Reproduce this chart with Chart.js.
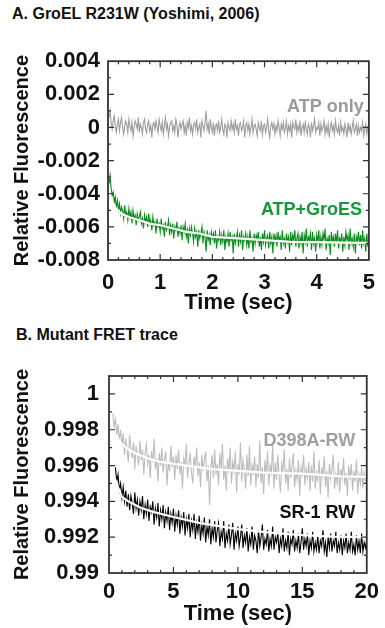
<!DOCTYPE html>
<html>
<head>
<meta charset="utf-8">
<script src="https://cdn.jsdelivr.net/npm/chart.js@4/dist/chart.umd.min.js"></script>
<style>
  body { margin: 0; background: #fff; }
  .titulo { position: absolute; font: bold 16px 'Liberation Sans', Arial, sans-serif; color: #111; white-space: nowrap; }
  canvas { position: absolute; left: 0; }
</style>
</head>
<body>
<div class="titulo" style="left:12px; top:5px;">A. GroEL R231W (Yoshimi, 2006)</div>
<canvas id="painelA" width="385" height="280" style="top:40px;"></canvas>
<div class="titulo" style="left:16px; top:326px;">B. Mutant FRET trace</div>
<canvas id="painelB" width="385" height="277" style="top:350px;"></canvas>
<script>
// Painel A: leituras a cada 0.02 s a partir de 0.02 s, valores em unidades de 1e-4
const inicioA = 0.02;
const passoA = 0.02;
const escalaA = 1e-4;
const atpSomente = [
  6, 10, 3, -1, 4, 7, 1, -3, 2, 5,
  -2, 3, 6, 0, -4, 1, 4, 2, -3, 5,
  1, -2, 3, -5, 0, 4, 2, -1, 6, -3,
  2, 0, -4, 3, 5, -1, -3, 2, 4, -2,
  1, -6, 2, 3, -1, 4, 0, -3, 5, 1,
  -2, 3, -4, 1, 6, -1, 2, -5, 0, 3,
  4, -2, 1, -3, 5, 2, -6, 0, 3, -1,
  2, 4, -3, 1, -5, 3, 0, 6, -2, 1,
  -4, 2, 3, -1, 5, -3, 0, 2, -6, 4,
  1, -2, 3, 10, -1, 2, -4, 5, 0, -3,
  3, -5, 1, 2, -2, 4, -3, 0, 5, -1,
  -4, 2, 1, -6, 3, 0, -2, 4, -1, 2,
  -3, 5, -1, 1, -5, 2, 3, -2, 0, 4,
  -6, 1, 3, -2, 2, -4, 0, 5, -3, 1,
  2, -1, -5, 3, 0, -2, 4, -4, 1, 2,
  -3, 0, 5, -2, -6, 1, 3, -1, 2, -4,
  1, -2, 4, 0, -5, 2, -1, 3, -3, 0,
  4, -4, 1, -2, 2, -6, 3, 0, -1, 5,
  -3, 1, -2, 4, -5, 0, 2, -3, 3, -1,
  -4, 2, 0, -6, 3, -2, 1, 5, -3, 0,
  -1, 3, -5, 2, -2, 0, 4, -4, 1, -3,
  2, -6, 0, 3, -2, 1, -4, 4, -1, -3,
  1, -5, 3, -2, 0, -4, 2, -1, -6, 3,
  -2, 1, -4, 0, 4, -3, -1, 2, -5, 1,
  -3, 0, -2, 3, -5, -1, 2, -4, 0, -2
];
const atpGroES = [
  -34, -29, -37, -41, -39, -45, -42, -48, -44, -50,
  -46, -52, -48, -50, -55, -47, -53, -51, -56, -49,
  -54, -51, -58, -50, -55, -53, -59, -52, -56, -54,
  -51, -58, -55, -61, -53, -57, -54, -60, -52, -58,
  -56, -62, -54, -59, -57, -64, -55, -60, -58, -63,
  -55, -61, -59, -66, -57, -62, -60, -56, -65, -59,
  -63, -58, -67, -60, -62, -57, -66, -61, -64, -59,
  -68, -60, -63, -58, -66, -62, -70, -61, -65, -60,
  -64, -69, -61, -66, -63, -72, -62, -67, -64, -60,
  -70, -63, -66, -75, -62, -68, -65, -71, -63, -67,
  -64, -70, -62, -73, -66, -68, -63, -71, -65, -69,
  -62, -74, -66, -69, -64, -72, -63, -68, -66, -76,
  -64, -70, -67, -63, -72, -65, -69, -62, -74, -66,
  -68, -64, -71, -66, -73, -62, -69, -67, -75, -64,
  -70, -65, -68, -63, -72, -66, -74, -64, -69, -62,
  -71, -67, -65, -73, -63, -70, -66, -76, -64, -69,
  -65, -72, -63, -68, -66, -74, -62, -70, -67, -73,
  -64, -69, -66, -75, -63, -71, -65, -68, -62, -72,
  -67, -64, -73, -66, -70, -63, -76, -65, -69, -61,
  -72, -66, -68, -64, -74, -63, -70, -67, -75, -65,
  -69, -62, -73, -66, -71, -64, -68, -61, -74, -67,
  -70, -65, -77, -63, -69, -66, -72, -64, -70, -62,
  -73, -67, -69, -64, -75, -66, -71, -63, -68, -65,
  -74, -61, -70, -67, -72, -64, -76, -66, -69, -63,
  -71, -65, -73, -62, -70, -67, -75, -64, -72, -66
];
const tempoAjusteA = [0.08, 0.15, 0.25, 0.4, 0.6, 0.8, 1.0, 1.25, 1.5, 1.75, 2.0, 2.5, 3.0, 3.5, 4.0, 4.5, 5.0];
const ajusteA = [-0.0045, -0.0049, -0.0052, -0.0054, -0.0056, -0.0058, -0.0059, -0.0061, -0.0063, -0.0064, -0.0066, -0.0067, -0.0068, -0.0069, -0.00692, -0.00695, -0.00697];
const ticksXA = [0, 1, 2, 3, 4, 5];
const ticksYA = [-0.008, -0.006, -0.004, -0.002, 0, 0.002, 0.004];
const rotulosYA = ['-0.008', '-0.006', '-0.004', '-0.002', '0', '0.002', '0.004'];

// Painel B: leituras a cada 0.1 s a partir de 0.3 s
const inicioB = 0.3;
const passoB = 0.1;
const d398a = [
  0.9989, 0.9982, 0.9986, 0.9977, 0.9983, 0.9974, 0.9980, 0.9971, 0.9978, 0.9966,
  0.9975, 0.9969, 0.9962, 0.9977, 0.9970, 0.9964, 0.9973, 0.9958, 0.9971, 0.9966,
  0.9960, 0.9974, 0.9963, 0.9969, 0.9955, 0.9967, 0.9972, 0.9961, 0.9966, 0.9953,
  0.9968, 0.9962, 0.9975, 0.9958, 0.9964, 0.9951, 0.9967, 0.9960, 0.9970, 0.9956,
  0.9963, 0.9968, 0.9949, 0.9962, 0.9957, 0.9971, 0.9959, 0.9965, 0.9952, 0.9966,
  0.9958, 0.9969, 0.9955, 0.9962, 0.9947, 0.9964, 0.9960, 0.9972, 0.9953, 0.9961,
  0.9967, 0.9956, 0.9950, 0.9965, 0.9959, 0.9970, 0.9954, 0.9962, 0.9948, 0.9966,
  0.9957, 0.9963, 0.9968, 0.9951, 0.9960, 0.9938, 0.9958, 0.9966, 0.9953, 0.9969,
  0.9955, 0.9961, 0.9949, 0.9967, 0.9958, 0.9972, 0.9952, 0.9960, 0.9946, 0.9964,
  0.9956, 0.9970, 0.9950, 0.9962, 0.9957, 0.9968, 0.9945, 0.9961, 0.9955, 0.9973,
  0.9951, 0.9963, 0.9958, 0.9947, 0.9966, 0.9954, 0.9971, 0.9949, 0.9960, 0.9956,
  0.9965, 0.9948, 0.9961, 0.9953, 0.9974, 0.9950, 0.9959, 0.9944, 0.9963, 0.9955,
  0.9968, 0.9949, 0.9960, 0.9956, 0.9972, 0.9947, 0.9962, 0.9952, 0.9966, 0.9954,
  0.9945, 0.9961, 0.9957, 0.9969, 0.9950, 0.9958, 0.9946, 0.9964, 0.9953, 0.9960,
  0.9967, 0.9948, 0.9957, 0.9952, 0.9963, 0.9943, 0.9959, 0.9955, 0.9966, 0.9949,
  0.9958, 0.9953, 0.9962, 0.9946, 0.9960, 0.9951, 0.9968, 0.9947, 0.9956, 0.9952,
  0.9963, 0.9944, 0.9959, 0.9954, 0.9965, 0.9948, 0.9957, 0.9942, 0.9961, 0.9953,
  0.9958, 0.9966, 0.9947, 0.9955, 0.9950, 0.9962, 0.9945, 0.9958, 0.9953, 0.9964,
  0.9949, 0.9956, 0.9943, 0.9960, 0.9952, 0.9961, 0.9946, 0.9957, 0.9951, 0.9963,
  0.9944, 0.9955, 0.9950, 0.9959, 0.9947, 0.9956, 0.9952, 0.9949
];
const sr1 = [
  null, null, 0.9959, 0.9951, 0.9955, 0.9946, 0.9950, 0.9942, 0.9948, 0.9940,
  0.9946, 0.9937, 0.9944, 0.9935, 0.9943, 0.9939, 0.9933, 0.9945, 0.9936, 0.9941,
  0.9932, 0.9940, 0.9935, 0.9943, 0.9930, 0.9938, 0.9933, 0.9941, 0.9929, 0.9937,
  0.9934, 0.9940, 0.9927, 0.9936, 0.9931, 0.9939, 0.9926, 0.9935, 0.9930, 0.9938,
  0.9925, 0.9934, 0.9929, 0.9937, 0.9924, 0.9933, 0.9928, 0.9936, 0.9923, 0.9932,
  0.9927, 0.9935, 0.9922, 0.9931, 0.9926, 0.9934, 0.9921, 0.9930, 0.9925, 0.9933,
  0.9920, 0.9929, 0.9924, 0.9933, 0.9919, 0.9928, 0.9923, 0.9932, 0.9918, 0.9927,
  0.9922, 0.9931, 0.9917, 0.9926, 0.9921, 0.9930, 0.9916, 0.9925, 0.9920, 0.9929,
  0.9917, 0.9924, 0.9928, 0.9915, 0.9923, 0.9919, 0.9929, 0.9914, 0.9922, 0.9918,
  0.9927, 0.9916, 0.9921, 0.9928, 0.9913, 0.9922, 0.9918, 0.9926, 0.9915, 0.9920,
  0.9927, 0.9914, 0.9921, 0.9917, 0.9925, 0.9912, 0.9920, 0.9916, 0.9926, 0.9913,
  0.9921, 0.9918, 0.9911, 0.9924, 0.9915, 0.9920, 0.9927, 0.9913, 0.9919, 0.9916,
  0.9924, 0.9912, 0.9919, 0.9915, 0.9926, 0.9913, 0.9920, 0.9917, 0.9923, 0.9911,
  0.9919, 0.9915, 0.9925, 0.9912, 0.9918, 0.9914, 0.9923, 0.9910, 0.9919, 0.9916,
  0.9924, 0.9912, 0.9918, 0.9914, 0.9922, 0.9911, 0.9917, 0.9925, 0.9913, 0.9919,
  0.9915, 0.9922, 0.9910, 0.9918, 0.9914, 0.9923, 0.9912, 0.9917, 0.9913, 0.9921,
  0.9911, 0.9918, 0.9915, 0.9924, 0.9912, 0.9917, 0.9909, 0.9920, 0.9914, 0.9922,
  0.9912, 0.9918, 0.9915, 0.9923, 0.9911, 0.9917, 0.9913, 0.9921, 0.9910, 0.9918,
  0.9914, 0.9922, 0.9911, 0.9917, 0.9913, 0.9923, 0.9912, 0.9916, 0.9910, 0.9921,
  0.9913, 0.9918, 0.9911, 0.9922, 0.9912, 0.9917, 0.9914, 0.9919
];
const tempoAjusteD398 = [0.2, 0.5, 1, 1.5, 2, 3, 4, 5, 6, 8, 10, 12, 15, 18, 20];
const ajusteD398 = [0.9981, 0.9977, 0.9972, 0.9969, 0.9967, 0.9964, 0.9962, 0.9961, 0.9960, 0.9958, 0.9957, 0.9956, 0.99555, 0.9954, 0.99537];
const tempoAjusteSR1 = [0.45, 0.7, 1, 1.5, 2.5, 3.5, 5, 7, 10, 12.5, 15, 17.5, 20];
const ajusteSR1 = [0.9953, 0.9948, 0.99425, 0.9940, 0.99363, 0.9934, 0.99313, 0.9928, 0.99245, 0.99225, 0.99211, 0.99203, 0.992];
const ticksXB = [0, 5, 10, 15, 20];
const ticksYB = [0.99, 0.992, 0.994, 0.996, 0.998, 1];
const rotulosYB = ['0.99', '0.992', '0.994', '0.996', '0.998', '1'];

const FONTE = "'Liberation Sans', Arial, sans-serif";

const paraPontos = (inicio, passo, valores, escala = 1) =>
  valores.map((v, i) => ({ x: +(inicio + i * passo).toFixed(3), y: v === null ? null : v * escala }));
const juntar = (tempos, valores) => tempos.map((t, i) => ({ x: t, y: valores[i] }));

// subdivide os ticks maiores em ticks menores
const menores = (maiores, partes) => {
  const lista = [];
  for (let i = 0; i < maiores.length - 1; i++) {
    const passo = (maiores[i + 1] - maiores[i]) / partes;
    for (let k = 1; k < partes; k++) lista.push(maiores[i] + k * passo);
  }
  return lista;
};

// moldura com marcas para dentro nos quatro lados + rotulos das curvas
const molduraPlugin = {
  id: 'moldura',
  afterDatasetsDraw(chart, args, opts) {
    const { ctx, chartArea: a, scales: { x, y } } = chart;
    ctx.save();
    ctx.strokeStyle = '#333';
    ctx.lineWidth = 1.2;
    const marcarX = (valores, tam) => {
      valores.forEach(v => {
        const px = x.getPixelForValue(v);
        if (px > a.left + 1 && px < a.right - 1) {
          ctx.beginPath();
          ctx.moveTo(px, a.bottom); ctx.lineTo(px, a.bottom - tam);
          ctx.moveTo(px, a.top); ctx.lineTo(px, a.top + tam);
          ctx.stroke();
        }
      });
    };
    const marcarY = (valores, tam) => {
      valores.forEach(v => {
        const py = y.getPixelForValue(v);
        if (py > a.top + 1 && py < a.bottom - 1) {
          ctx.beginPath();
          ctx.moveTo(a.left, py); ctx.lineTo(a.left + tam, py);
          ctx.moveTo(a.right, py); ctx.lineTo(a.right - tam, py);
          ctx.stroke();
        }
      });
    };
    marcarX(opts.xMaiores, 6);
    marcarX(menores(opts.xMaiores, opts.xPartes), 3);
    marcarY(opts.yMaiores, 6);
    marcarY(menores(opts.yMaiores, opts.yPartes), 3);
    ctx.lineWidth = 1.8;
    ctx.strokeRect(a.left, a.top, a.right - a.left, a.bottom - a.top);

    ctx.font = 'bold 18px ' + FONTE;
    ctx.textAlign = 'right';
    ctx.textBaseline = 'middle';
    opts.rotulos.forEach(r => {
      ctx.fillStyle = r.cor;
      ctx.fillText(r.texto, x.getPixelForValue(r.x), y.getPixelForValue(r.y));
    });
    ctx.restore();
  }
};

const linha = (dados, cor, largura, ordem) => ({
  data: dados,
  borderColor: cor,
  borderWidth: largura,
  pointRadius: 0,
  tension: 0,
  order: ordem,
  spanGaps: false
});

const criarPainel = (id, cfg) => new Chart(document.getElementById(id), {
  type: 'line',
  data: { datasets: cfg.datasets },
  options: {
    responsive: false,
    animation: false,
    layout: { padding: { top: cfg.topo, right: 16, left: 0, bottom: 0 } },
    plugins: {
      legend: { display: false },
      tooltip: { enabled: false },
      moldura: cfg.moldura
    },
    scales: {
      x: {
        type: 'linear',
        min: cfg.xMin, max: cfg.xMax,
        grid: { display: false, drawTicks: false },
        border: { display: false },
        afterBuildTicks: s => { s.ticks = cfg.xTicks.map(v => ({ value: v })); },
        afterFit: s => { s.height = cfg.alturaX; },
        ticks: {
          padding: cfg.padTickX,
          color: '#111',
          font: { family: FONTE, size: 22, weight: 'bold' },
          maxRotation: 0,
          callback: v => String(v)
        },
        title: {
          display: true,
          text: 'Time (sec)',
          color: '#111',
          padding: { top: 0, bottom: cfg.padTituloX },
          font: { family: FONTE, size: 22, weight: 'bold' }
        }
      },
      y: {
        type: 'linear',
        min: cfg.yMin, max: cfg.yMax,
        grid: { display: false, drawTicks: false },
        border: { display: false },
        afterBuildTicks: s => { s.ticks = cfg.yTicks.map(v => ({ value: v })); },
        afterFit: s => { s.width = cfg.larguraY; },
        ticks: {
          padding: cfg.padTickY,
          color: '#111',
          font: { family: FONTE, size: 22, weight: 'bold' },
          callback: (v, i) => cfg.yRotulos[i]
        },
        title: {
          display: true,
          text: 'Relative Fluorescence',
          color: '#111',
          padding: { top: 10, bottom: 0 },
          font: { family: FONTE, size: 20, weight: 'bold' }
        }
      }
    }
  },
  plugins: [molduraPlugin]
});

criarPainel('painelA', {
  datasets: [
    linha(juntar(tempoAjusteA, ajusteA), '#ffffff', 2.2, 0),
    linha(paraPontos(inicioA, passoA, atpGroES, escalaA), '#0b8a1c', 1.1, 1),
    linha(paraPontos(inicioA, passoA, atpSomente, escalaA), '#9e9e9e', 1.1, 2)
  ],
  topo: 21, alturaX: 60, padTickX: 10, padTituloX: 4, larguraY: 108, padTickY: 8,
  xMin: 0, xMax: 5, yMin: -0.008, yMax: 0.004,
  xTicks: ticksXA, yTicks: ticksYA, yRotulos: rotulosYA,
  moldura: {
    xMaiores: ticksXA, xPartes: 5, yMaiores: ticksYA, yPartes: 2,
    rotulos: [
      { texto: 'ATP only', x: 4.9, y: 0.00126, cor: '#9a9a9a' },
      { texto: 'ATP+GroES', x: 4.87, y: -0.00498, cor: '#129a3a' }
    ]
  }
});

criarPainel('painelB', {
  datasets: [
    linha(juntar(tempoAjusteSR1, ajusteSR1), '#ffffff', 2.2, 0),
    linha(juntar(tempoAjusteD398, ajusteD398), '#ffffff', 2.2, 0),
    linha(paraPontos(inicioB, passoB, sr1), '#000000', 1.1, 1),
    linha(paraPontos(inicioB, passoB, d398a), '#bdbdbd', 1.1, 2)
  ],
  topo: 26, alturaX: 54, padTickX: 6, padTituloX: 0, larguraY: 109, padTickY: 10,
  xMin: 0, xMax: 20, yMin: 0.99, yMax: 1.001,
  xTicks: ticksXB, yTicks: ticksYB, yRotulos: rotulosYB,
  moldura: {
    xMaiores: ticksXB, xPartes: 5, yMaiores: ticksYB, yPartes: 2,
    rotulos: [
      { texto: 'D398A-RW', x: 19.1, y: 0.99735, cor: '#a0a0a0' },
      { texto: 'SR-1 RW', x: 19.1, y: 0.99335, cor: '#111111' }
    ]
  }
});
</script>
</body>
</html>
